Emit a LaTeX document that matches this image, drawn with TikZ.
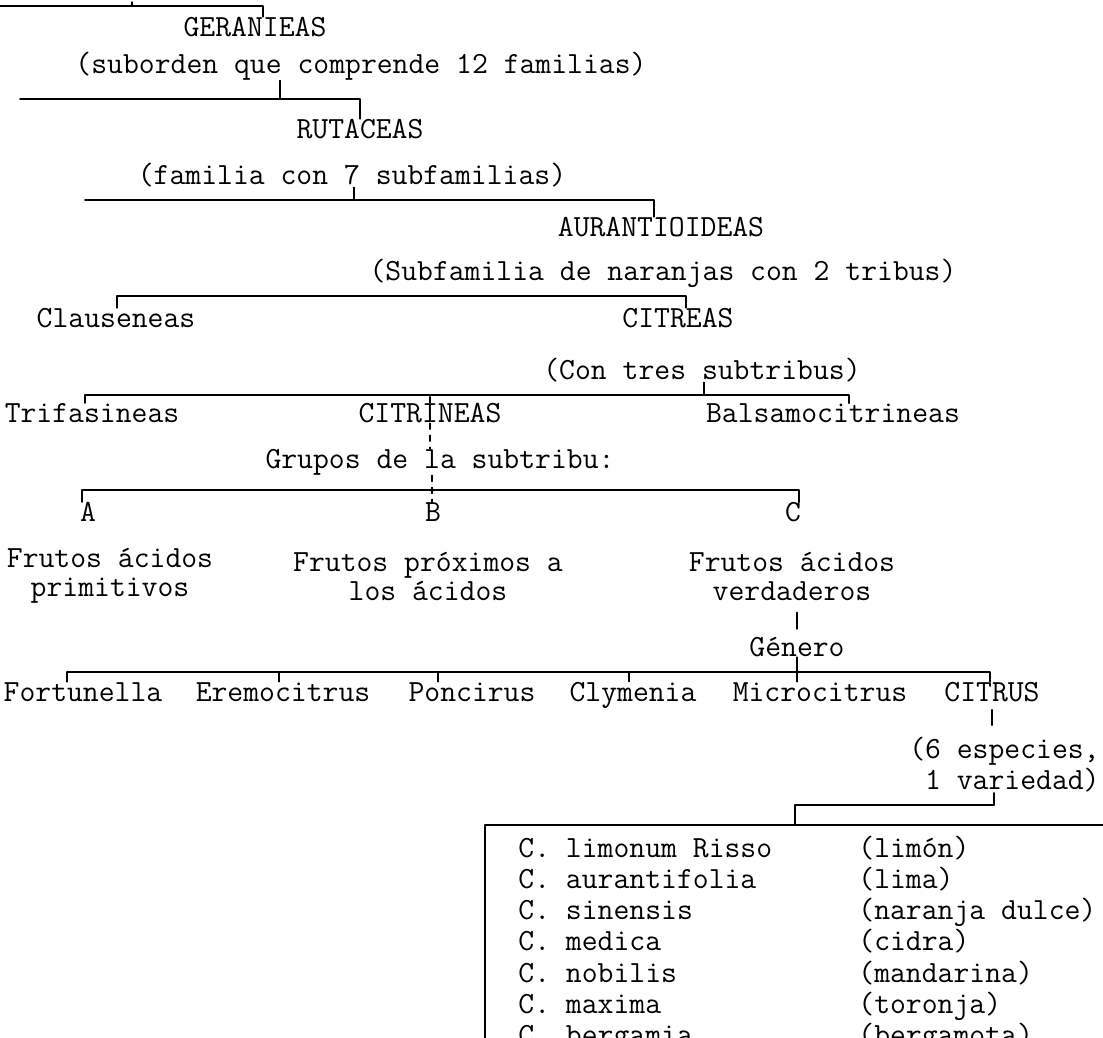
\documentclass[tikz,border=0pt]{standalone}
\begin{document}
\begin{tikzpicture}[x=0.5pt,y=-0.5pt,line cap=round,line join=round,
    taxon/.style={font=\fontsize{15.4}{14.5}\selectfont\ttfamily,inner sep=0pt,align=center},
    bracket/.style={line width=0.9pt},
    tick/.style={line width=0.7pt}]
  \useasboundingbox (0,0) rectangle (1103,1038);
  \clip (0,0) rectangle (1103,1038);
  \fill[white] (0,0) rectangle (1103,1038);
  % ranks, top to bottom
  \node[taxon] (geran) at (255,27) {GERANIEAS};
  \node[taxon] (subor) at (361,66) {(suborden que comprende 12 familias)};
  \node[taxon] (ruta) at (360,129) {RUTACEAS};
  \node[taxon] (fam) at (352,175) {(familia con 7 subfamilias)};
  \node[taxon] (auran) at (661,227) {AURANTIOIDEAS};
  \node[taxon] (subfam) at (663,273) {(Subfamilia de naranjas con 2 tribus)};
  \node[taxon] (claus) at (116,318) {Clauseneas};
  \node[taxon] (citreas) at (678,318) {CITREAS};
  \node[taxon] (trib) at (702,370) {(Con tres subtribus)};
  \node[taxon] (trifas) at (92,413) {Trifasineas};
  \node[taxon] (citrin) at (430,413) {CITRINEAS};
  \node[taxon] (balsam) at (833,413) {Balsamocitrineas};
  \node[taxon] (grupos) at (440,462) {Grupos de la subtribu:};
  \node[taxon] (ga) at (88,512) {A};
  \node[taxon] (gb) at (433,512) {B};
  \node[taxon] (gc) at (793,512) {C};
  \node[taxon] (fa) at (110,576) {Frutos ácidos\\primitivos};
  \node[taxon] (fb) at (428,576) {Frutos próximos a\\los ácidos};
  \node[taxon] (fc) at (792,576) {Frutos ácidos\\verdaderos};
  \node[taxon] (genero) at (797,647) {Género};
  \foreach \g/\x/\t in {fort/83/Fortunella,erem/283/Eremocitrus,ponc/472/Poncirus,
      clym/633/Clymenia,micr/820/Microcitrus,citrus/992/CITRUS}
    \node[taxon,anchor=base] (\g) at (\x,701) {\t};
  \node[taxon,align=right,anchor=east,font=\fontsize{15.4}{15.5}\selectfont\ttfamily]
    (espec) at (1100,765) {(6 especies,\\1 variedad)};
  % species list
  \foreach \sp/\com [count=\i from 0] in {limonum Risso/limón,aurantifolia/lima,
      sinensis/naranja dulce,medica/cidra,nobilis/mandarina,maxima/toronja,bergamia/bergamota}{
    \node[taxon,anchor=base west] (sp\i) at (518,857+31.3*\i) {C. \sp};
    \node[taxon,anchor=base west] (com\i) at (858,857+31.3*\i) {(\com)};
  }
  % brackets
  \coordinate (b0l) at (0,6);     \coordinate (b0r) at (263,6);   \coordinate (b0t) at (132,6);
  \coordinate (b1l) at (20,99);   \coordinate (b1r) at (360,99);  \coordinate (b1t) at (280,99);
  \coordinate (b2l) at (85,200);  \coordinate (b2r) at (654,200); \coordinate (b2t) at (354,200);
  \coordinate (b3l) at (117,296); \coordinate (b3r) at (686,296);
  \coordinate (b4l) at (85,395);  \coordinate (b4r) at (849,395); \coordinate (b4t) at (704,395);
  \coordinate (b5l) at (82,490);  \coordinate (b5r) at (799,490); \coordinate (b5m) at (432,490);
  \coordinate (b6l) at (67,672);  \coordinate (b6r) at (990,672);
  \coordinate (b7l) at (795,805); \coordinate (b7r) at (994,805);
  \coordinate (b8l) at (485,825); \coordinate (b8r) at (1103,825); \coordinate (b8d) at (485,1038);
  \draw[tick] (b0t) -- +(0,-4);
  \draw[bracket] (b0l) -- (b0r) -- (b0r |- geran.north);
  \draw[tick] (subor.south -| b1t) -- (b1t);
  \draw[bracket] (b1l) -- (b1r) -- (b1r |- ruta.north);
  \draw[tick] (fam.south -| b2t) -- (b2t);
  \draw[bracket] (b2l) -- (b2r) -- (b2r |- auran.north);
  \draw[bracket] (claus.north -| b3l) -- (b3l) -- (b3r) -- (b3r |- citreas.north);
  \draw[tick] (trib.south -| b4t) -- (b4t);
  \draw[bracket] (trifas.north -| b4l) -- (b4l) -- (b4r) -- (b4r |- balsam.north);
  \draw[tick] (citrin.north) -- +(0,-6);
  \draw[tick,dashed] (citrin.south) -- (grupos.north -| citrin.south);
  \draw[tick,dashed] (grupos.south -| b5m) -- (gb.north -| b5m);
  \draw[bracket] (ga.north -| b5l) -- (b5l) -- (b5r) -- (b5r |- gc.north);
  \draw[bracket,shorten <=6pt,shorten >=4pt] (fc.south -| genero.north) -- (genero.north);
  \draw[tick] (genero.south) -- (micr.north -| genero.south);
  \draw[bracket] (fort.north -| b6l) -- (b6l) -- (b6r) -- (b6r |- citrus.north);
  \foreach \g/\x in {erem/279,ponc/438,clym/629}{
    \coordinate (t\g) at (\x,672);
    \draw[tick] (t\g) -- (t\g |- \g.north);
  }
  \draw[bracket,shorten <=4pt,shorten >=6pt] (citrus.south) -- (espec.north -| citrus.south);
  \draw[tick] (espec.south -| b7r) -- (b7r);
  \draw[bracket] (b7r) -- (b7l) -- (b7l |- b8l);
  \draw[bracket] (b8r) -- (b8l) -- (b8d);
\end{tikzpicture}
\end{document}
